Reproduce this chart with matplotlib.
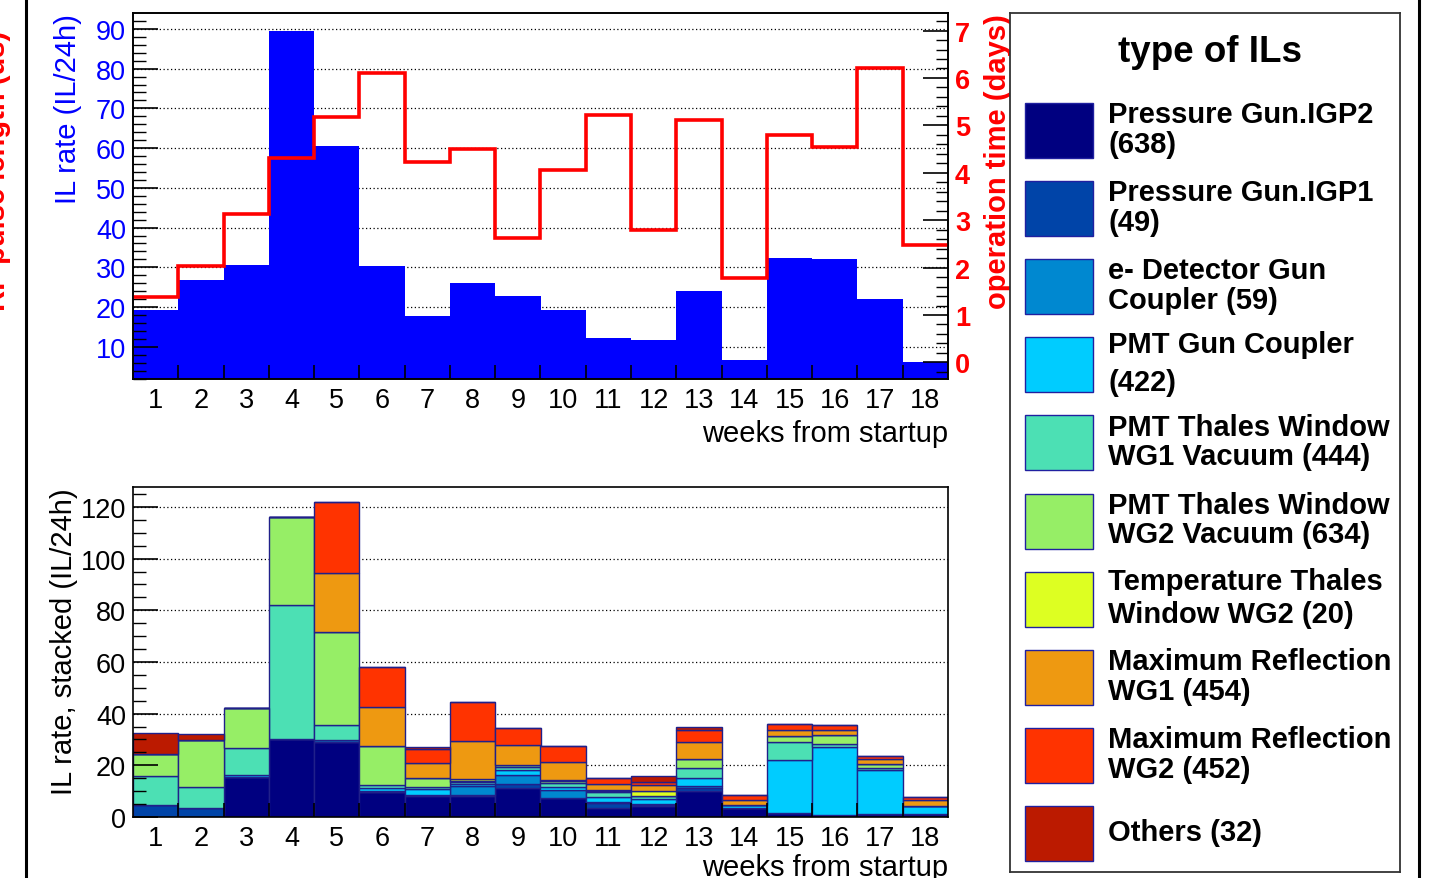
import numpy as np
import matplotlib
matplotlib.use("Agg")
import matplotlib.pyplot as plt
from matplotlib.patches import Rectangle
from matplotlib.lines import Line2D

plt.rcParams['font.family'] = ['Liberation Sans', 'DejaVu Sans']

weeks = np.arange(1, 19)
edges = np.arange(0.5, 19.0, 1.0)

# top panel: total IL rate (blue) and operation time (red)
il_rate = [19.2, 26.9, 30.7, 89.4, 60.6, 30.3, 17.8, 26.0, 22.9,
           19.2, 12.1, 11.6, 24.0, 6.7, 32.3, 32.0, 22.1, 6.1]
op_time = [1.38, 2.03, 3.13, 4.31, 5.17, 6.11, 4.23, 4.50, 2.63,
           4.05, 5.22, 2.80, 5.12, 1.79, 4.80, 4.54, 6.21, 2.48]

# bottom panel: IL rate per type (stacked)
igp2 = [0, 0, 15.4, 30.2, 28.9, 9.8, 8.0, 8.0, 11.1, 7.2, 3.4, 4.4, 10.2, 3.4, 1.5, 0.8, 1.2, 1.2]
igp1 = [4.6, 3.4, 0, 0, 0, 0, 0.4, 0.5, 1.7, 0, 1.9, 0.3, 1.0, 0, 0, 0, 0, 0]
edet = [0, 0, 0, 0, 0.9, 0.3, 0, 3.6, 3.5, 3.4, 0.5, 0.3, 0.9, 0, 0, 0, 0, 0]
pmt_gun = [0, 0, 0.9, 0, 0, 1.2, 2.4, 0.5, 1.9, 0.9, 1.8, 2.0, 2.9, 1.4, 20.6, 26.4, 17.0, 3.2]
wg1_vac = [11.2, 8.1, 10.4, 52.0, 5.8, 1.2, 0.9, 0.8, 1.0, 1.7, 2.2, 1.0, 3.9, 0, 7.1, 1.0, 0.8, 0]
wg2_vac = [8.6, 18.4, 15.4, 33.8, 36.1, 15.1, 3.3, 0.6, 0.9, 0.9, 0.4, 0, 3.6, 0, 2.0, 3.5, 1.5, 0]
temp_wg2 = [0, 0, 0, 0, 0, 0, 0, 0.6, 0, 0.3, 0.3, 2.2, 0, 0, 0, 0, 0, 0]
refl_wg1 = [0, 0, 0, 0, 22.8, 15.1, 5.8, 14.8, 7.8, 7.0, 2.3, 2.2, 6.4, 1.9, 2.6, 2.1, 2.0, 2.2]
refl_wg2 = [0, 0, 0, 0, 27.3, 15.3, 5.6, 15.0, 6.6, 6.0, 2.2, 1.3, 4.9, 1.8, 2.2, 1.8, 1.2, 1.3]
others = [8.1, 2.4, 0, 0, 0, 0, 0.5, 0, 0, 0, 0, 2.3, 1.0, 0, 0, 0, 0, 0]

layers = [igp2, igp1, edet, pmt_gun, wg1_vac, wg2_vac, temp_wg2, refl_wg1, refl_wg2, others]
colors = ["#000080", "#0044a8", "#0088d0", "#00ccff", "#4ce0b4",
          "#96ee66", "#ddff22", "#ee9911", "#ff3300", "#bb1a00"]
labels = ["Pressure Gun.IGP2\n(638)", "Pressure Gun.IGP1\n(49)",
          "e- Detector Gun\nCoupler (59)", "PMT Gun Coupler\n(422)",
          "PMT Thales Window\nWG1 Vacuum (444)", "PMT Thales Window\nWG2 Vacuum (634)",
          "Temperature Thales\nWindow WG2 (20)", "Maximum Reflection\nWG1 (454)",
          "Maximum Reflection\nWG2 (452)", "Others (32)"]
line_sp = [1.08, 1.08, 1.08, 1.45, 1.08, 1.08, 1.25, 1.08, 1.08, 1.08]

W, H = 1445, 879
fig = plt.figure(figsize=(W / 100, H / 100), dpi=100)

def fax(x0, y0, x1, y1):
    return fig.add_axes([x0 / W, 1 - y1 / H, (x1 - x0) / W, (y1 - y0) / H])

tfs = 19.5

def week_axis(ax, pad):
    ax.set_xlim(0.5, 18.5)
    ax.set_xticks(edges[1:-1], labels=[])
    ax.set_xticks(weeks, labels=[str(w) for w in weeks], minor=True)
    ax.tick_params(axis='x', which='major', direction='in', length=10, width=1.2, top=False)
    ax.tick_params(axis='x', which='minor', length=0, labelsize=tfs, pad=6)
    ax.set_xlabel("weeks from startup", loc='right', fontsize=21, labelpad=pad)
    for s in ax.spines.values():
        s.set_linewidth(1.2)

# ---------------- top panel
ax1 = fax(133, 14, 948, 380)
ax1.bar(weeks, il_rate, width=1.0, color="#0000ff", zorder=1)
ax1.set_ylim(1.9, 94)
ax1.set_yticks(np.arange(10, 91, 10))
ax1.set_yticks(np.arange(2, 94, 2), minor=True)
ax1.tick_params(axis='y', which='major', direction='in', length=18, width=1.2,
                labelsize=tfs, labelcolor='#0000ff', pad=5, right=False)
ax1.tick_params(axis='y', which='minor', direction='in', length=9, width=1.0, right=False)
for v in np.arange(10, 91, 10):
    ax1.axhline(v, color='black', lw=0.9, ls=(0, (1, 2)), zorder=0.5)
ax1.set_ylabel("IL rate (IL/24h)", loc='top', color='#0000ff', fontsize=21, labelpad=10)
week_axis(ax1, 4)

ax2 = ax1.twinx()
ax2.stairs(op_time, edges, color='#ff0000', lw=2.6, baseline=None)
ax2.set_ylim(-0.35, 7.37)
ax2.set_yticks(range(8), labels=[str(i) for i in range(8)], fontweight='bold',
               color='#ff0000', fontsize=tfs)
ax2.set_yticks(np.arange(-0.2, 7.4, 0.2), minor=True)
ax2.tick_params(axis='y', which='major', direction='in', length=18, width=1.2, pad=5, left=False)
ax2.tick_params(axis='y', which='minor', direction='in', length=9, width=1.0, left=False)
ax2.set_ylabel("operation time (days)", loc='top', color='#ff0000', fontsize=21,
               fontweight='bold', labelpad=10)
for s in ax2.spines.values():
    s.set_linewidth(1.2)

# ---------------- bottom panel
ax3 = fax(133, 488, 948, 818)
bottom = np.zeros(len(weeks))
for vals, c in zip(layers, colors):
    vals = np.array(vals)
    ax3.bar(weeks, vals, width=1.0, bottom=bottom, color=c,
            edgecolor='#20208a', linewidth=1.0, zorder=1)
    bottom += vals
ax3.set_ylim(0, 127.7)
ax3.set_yticks(np.arange(0, 121, 20))
ax3.set_yticks(np.arange(5, 127, 5), minor=True)
ax3.tick_params(axis='y', which='major', direction='in', length=18, width=1.2,
                labelsize=tfs, pad=5, right=False)
ax3.tick_params(axis='y', which='minor', direction='in', length=9, width=1.0, right=False)
for v in np.arange(20, 121, 20):
    ax3.axhline(v, color='black', lw=0.9, ls=(0, (1, 2)), zorder=0.5)
ax3.set_ylabel("IL rate, stacked (IL/24h)", loc='top', fontsize=21, labelpad=2)
week_axis(ax3, 1)

# ---------------- legend panel
axl = fax(1010, 14, 1400, 873)
axl.set_xlim(1010, 1400)
axl.set_ylim(873, 14)
axl.set_xticks([])
axl.set_yticks([])
for s in axl.spines.values():
    s.set_linewidth(1.3)
    s.set_color('#333333')
axl.text(1210, 53, "type of ILs", ha='center', va='center', fontsize=26.5, fontweight='bold')
for i, (lab, c) in enumerate(zip(labels, colors)):
    cy = 131 + i * 78.1
    axl.add_patch(Rectangle((1025, cy - 27), 68, 55, facecolor=c, edgecolor='#2020a0', lw=1.0))
    axl.text(1108, cy - 1, lab, ha='left', va='center', fontsize=21, fontweight='bold',
             linespacing=line_sp[i])

# page frame lines and cut-off title on the far left
fig.add_artist(Line2D([26 / W, 26 / W], [0, 1], color='black', lw=2.2))
fig.add_artist(Line2D([1419 / W, 1419 / W], [0, 1], color='black', lw=2.2))
fig.text(11 / W, 1 - 171 / H, "RF pulse length (us)", rotation=90, ha='right', va='center',
         color='#ff0000', fontsize=21, fontweight='bold')

fig.savefig("out.png", dpi=100)
